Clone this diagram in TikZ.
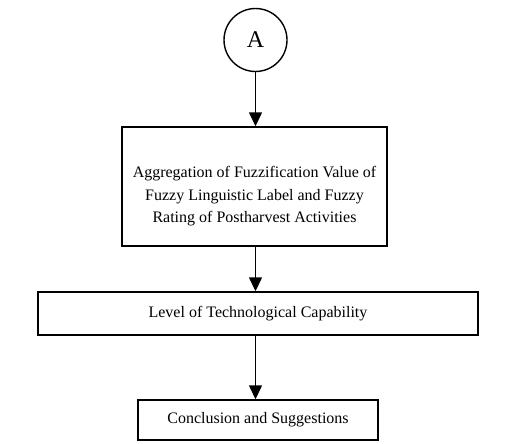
\documentclass[tikz,border=0pt]{standalone}
\usepackage{fontspec}
\setmainfont{Liberation Serif}
\usetikzlibrary{arrows.meta}
\begin{document}
\begin{tikzpicture}[x=1pt,y=-1pt,
  box/.style={draw, line width=1.4pt, inner sep=0pt, font=\fontsize{16}{22.5}\selectfont, align=center},
  conn/.style={line width=1.4pt, -{Triangle[width=13pt,length=14pt]}}]
\useasboundingbox (0,0) rectangle (509,444);
\node[draw, circle, line width=1.4pt, minimum size=63pt, inner sep=0pt, font=\fontsize{24}{28}\selectfont] (a) at (255.5,40) {A};
\node[box, minimum width=265pt, minimum height=119pt] (b1) at (254.5,186.5) {\rule{0pt}{31pt}Aggregation of Fuzzification Value of\\Fuzzy Linguistic Label and Fuzzy\\Rating of Postharvest Activities};
\node[box, minimum width=440pt, minimum height=43pt] (b2) at (258,313.5) {Level of Technological Capability};
\node[box, minimum width=240pt, minimum height=40pt] (b3) at (258,420) {Conclusion and Suggestions};
\draw[conn] (a.south) -- (a.south |- b1.north);
\draw[conn] (a.south |- b1.south) -- (a.south |- b2.north);
\draw[conn] (a.south |- b2.south) -- (a.south |- b3.north);
\end{tikzpicture}
\end{document}
